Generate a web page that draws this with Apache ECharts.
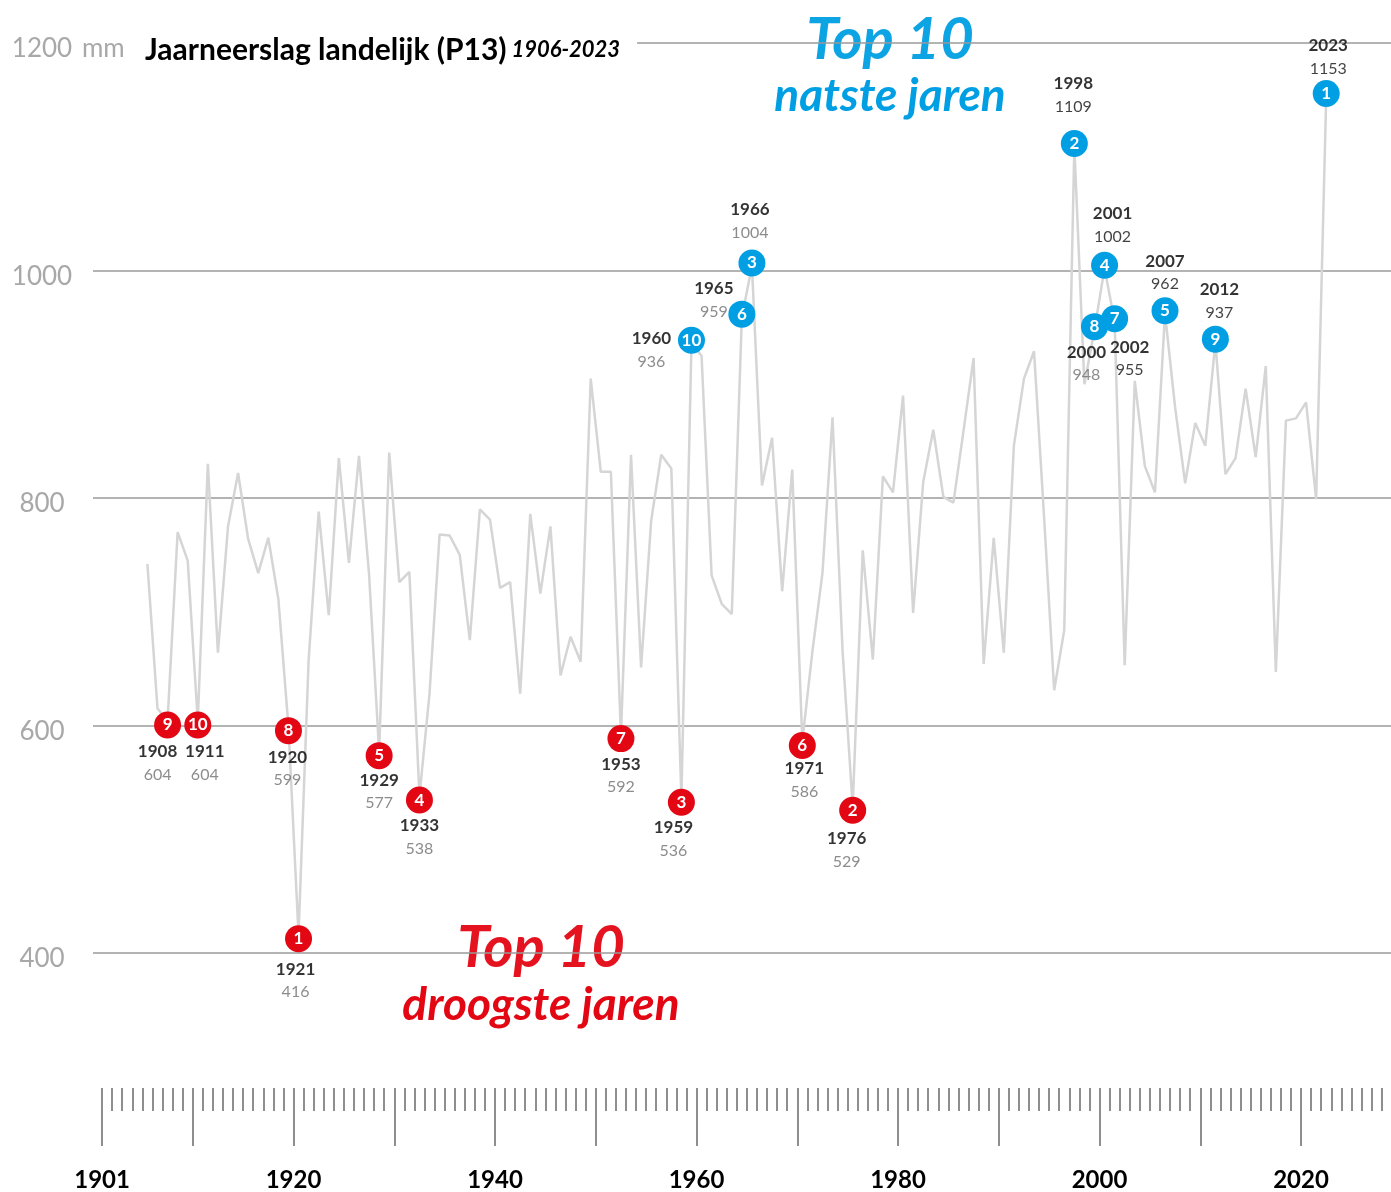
<!DOCTYPE html>
<html>
<head>
<meta charset="utf-8">
<script src="https://cdn.jsdelivr.net/npm/echarts@6/dist/echarts.min.js"></script>
<style>
  html, body { margin: 0; padding: 0; background: #fff; }
  #chart { width: 1391px; height: 1192px; }
</style>
</head>
<body>
<div id="chart"></div>
<script>
// ---------- DATA ----------
const firstYear = 1906;
const rainfall = [
  742, 615, 604, 770, 745, 604, 830, 664, 775, 822, // 1906-1915
  764, 734, 765, 711, 599, 416, 657, 788, 697, 835, // 1916-1925
  743, 837, 733, 577, 840, 726, 735, 538, 628, 768, // 1926-1935
  767, 750, 675, 790, 781, 721, 726, 628, 786, 716, // 1936-1945
  775, 644, 678, 656, 905, 823, 823, 592, 838, 651, // 1946-1955
  780, 838, 826, 536, 936, 925, 732, 707, 698, 959, // 1956-1965
  1004, 811, 853, 718, 825, 586, 665, 734, 871, 665, // 1966-1975
  529, 754, 658, 819, 805, 890, 699, 814, 860, 801, // 1976-1985
  796, 859, 923, 654, 765, 664, 846, 905, 929, 783, // 1986-1995
  631, 684, 1109, 900, 948, 1002, 955, 653, 903, 828, // 1996-2005
  805, 962, 880, 813, 866, 846, 937, 821, 835, 896, // 2006-2015
  836, 916, 647, 868, 870, 884, 799, 1153           // 2016-2023
];
const years = rainfall.map((_, i) => firstYear + i);

// ranked lists (rank 1 first)
const driestYears = [1921, 1976, 1959, 1933, 1929, 1971, 1953, 1920, 1908, 1911];
const wettestYears = [2023, 1998, 1966, 2001, 2007, 1965, 2002, 2000, 2012, 1960];

const yTicks = [400, 600, 800, 1000, 1200];
const minorTickYears = [];
for (let y = 1901; y <= 2028; y++) minorTickYears.push(y);
const majorTickYears = [1901, 1910, 1920, 1930, 1940, 1950, 1960, 1970, 1980, 1990, 2000, 2010, 2020];
const axisLabelYears = [1901, 1920, 1940, 1960, 1980, 2000, 2020];

// ---------- LAYOUT / STYLE (not data) ----------
const RED = '#e30613';
const BLUE = '#009fe3';
const FONT = 'Lato, "Open Sans", sans-serif';
// label block offsets [dx, dy] from the data point
const labelOffset = {
  1908: [-10, 42], 1911: [7, 42], 1920: [-1, 42], 1921: [-3, 46], 1929: [0, 40],
  1933: [0, 41], 1953: [0, 41], 1959: [-8, 41], 1971: [2, 39], 1976: [-6, 44],
  2023: [2, -39], 1998: [-1, -51], 1966: [-2, -45], 2001: [8, -43], 2007: [0, -41],
  1965: [-28, -17], 2002: [15, 37], 2000: [-8, 34], 2012: [4, -41], 1960: [-40, 7]
};
const greyValue = new Set([1966, 1965, 2000, 1960]);

const valueOf = y => rainfall[y - firstYear];
const tickPos = y => y + 0.5; // ticks sit half a year right of the year's point

const chart = echarts.init(document.getElementById('chart'), null, { renderer: 'canvas' });

function rankData(list) {
  return list.map((y, i) => ({ value: [y, valueOf(y)], rank: i + 1 }));
}

function labelData(list, isWet) {
  return list.map(y => {
    const dark = isWet && !greyValue.has(y);
    return {
      value: [y, valueOf(y)],
      label: {
        offset: labelOffset[y],
        formatter: '{y|' + y + '}\n{' + (dark ? 'd' : 'v') + '|' + valueOf(y) + '}'
      }
    };
  });
}

const labelRich = {
  y: { fontFamily: FONT, fontSize: 17, fontWeight: 'bold', color: '#000', lineHeight: 23, align: 'center' },
  v: { fontFamily: FONT, fontSize: 16, color: '#6f6f6f', lineHeight: 23, align: 'center' },
  d: { fontFamily: FONT, fontSize: 16, color: '#111', lineHeight: 23, align: 'center' }
};

const xMin = 1900.6, xMax = 2029.43;

const option = {
  backgroundColor: '#fff',
  animation: false,
  textStyle: { fontFamily: FONT },
  grid: { left: 93, right: 0, top: 43, bottom: 239, containLabel: false },
  title: {
    text: '{a|Jaarneerslag landelijk (P13)}{b| 1906-2023}',
    left: 128, top: 31,
    backgroundColor: '#fff',
    padding: [2, 17, 2, 17],
    textStyle: {
      rich: {
        a: { fontFamily: FONT, fontSize: 30, fontWeight: 'bold', color: '#000', lineHeight: 34 },
        b: { fontFamily: FONT, fontSize: 22, fontStyle: 'italic', color: '#000', lineHeight: 34 }
      }
    }
  },
  xAxis: [
    {
      type: 'value', min: xMin, max: xMax, position: 'bottom', offset: 135,
      axisLine: { show: false }, splitLine: { show: false },
      axisTick: { show: true, length: 23, customValues: minorTickYears.map(tickPos),
        lineStyle: { color: '#8e8e8e', width: 2 } },
      axisLabel: { show: false }
    },
    {
      type: 'value', min: xMin, max: xMax, position: 'bottom', offset: 135,
      axisLine: { show: false }, splitLine: { show: false },
      axisTick: { show: true, length: 58, customValues: majorTickYears.map(tickPos),
        lineStyle: { color: '#8e8e8e', width: 2 } },
      axisLabel: {
        show: true, customValues: axisLabelYears.map(tickPos), margin: 80,
        formatter: v => String(Math.round(v - 0.5)),
        fontFamily: FONT, fontSize: 24, fontWeight: 'bold', color: '#000'
      }
    }
  ],
  yAxis: {
    type: 'value', min: 400, max: 1200, interval: 200,
    axisLine: { show: false }, axisTick: { show: false },
    splitLine: { show: true, lineStyle: { color: '#9a9a9a', width: 1.5 } },
    axisLabel: {
      align: 'left', margin: 81, padding: [12, 0, 0, 0],
      formatter: v => v === 1200 ? '{a|1200}{m| mm}' : '{a|' + v + '}{e|}',
      rich: {
        a: { fontFamily: FONT, fontSize: 26, color: '#a8a8a8', width: 60, align: 'right' },
        m: { fontFamily: FONT, fontSize: 26, color: '#a8a8a8', backgroundColor: '#fff', width: 56, align: 'left', lineHeight: 32 },
        e: { width: 56 }
      }
    }
  },
  graphic: [
    { type: 'text', z: -1, style: { x: 890, y: 40, text: 'Top 10', align: 'center', verticalAlign: 'middle',
      font: 'italic bold 58px ' + FONT, fill: BLUE, opacity: 0.95 } },
    { type: 'text', z: -1, style: { x: 890, y: 96, text: 'natste jaren', align: 'center', verticalAlign: 'middle',
      font: 'italic bold 46px ' + FONT, fill: BLUE } },
    { type: 'text', z: -1, style: { x: 541, y: 948, text: 'Top 10', align: 'center', verticalAlign: 'middle',
      font: 'italic bold 58px ' + FONT, fill: RED, opacity: 0.95 } },
    { type: 'text', z: -1, style: { x: 541, y: 1005, text: 'droogste jaren', align: 'center', verticalAlign: 'middle',
      font: 'italic bold 46px ' + FONT, fill: RED } }
  ],
  series: [
    {
      type: 'line', name: 'neerslag', xAxisIndex: 0,
      data: years.map((y, i) => [y, rainfall[i]]),
      symbol: 'none', z: 1,
      lineStyle: { color: '#d5d5d5', width: 2.5 }
    },
    {
      type: 'scatter', name: 'droog', xAxisIndex: 0, z: 4,
      data: rankData(driestYears),
      symbolSize: 27, symbolOffset: [0, 4],
      itemStyle: { color: RED, opacity: 1 },
      label: { show: true, position: 'inside', formatter: p => String(p.data.rank),
        color: '#fff', fontFamily: FONT, fontWeight: 'bold', fontSize: 17 }
    },
    {
      type: 'scatter', name: 'nat', xAxisIndex: 0, z: 4,
      data: rankData(wettestYears),
      symbolSize: 27, symbolOffset: [0, -3],
      itemStyle: { color: BLUE, opacity: 1 },
      label: { show: true, position: 'inside', formatter: p => String(p.data.rank),
        color: '#fff', fontFamily: FONT, fontWeight: 'bold', fontSize: 17 }
    },
    {
      type: 'scatter', name: 'droog-labels', xAxisIndex: 0, z: 5,
      data: labelData(driestYears, false),
      symbolSize: 2, itemStyle: { color: 'rgba(0,0,0,0)' },
      label: { show: true, position: 'inside', rich: labelRich }
    },
    {
      type: 'scatter', name: 'nat-labels', xAxisIndex: 0, z: 5,
      data: labelData(wettestYears, true),
      symbolSize: 2, itemStyle: { color: 'rgba(0,0,0,0)' },
      label: { show: true, position: 'inside', rich: labelRich }
    }
  ]
};
chart.setOption(option);
</script>
</body>
</html>
